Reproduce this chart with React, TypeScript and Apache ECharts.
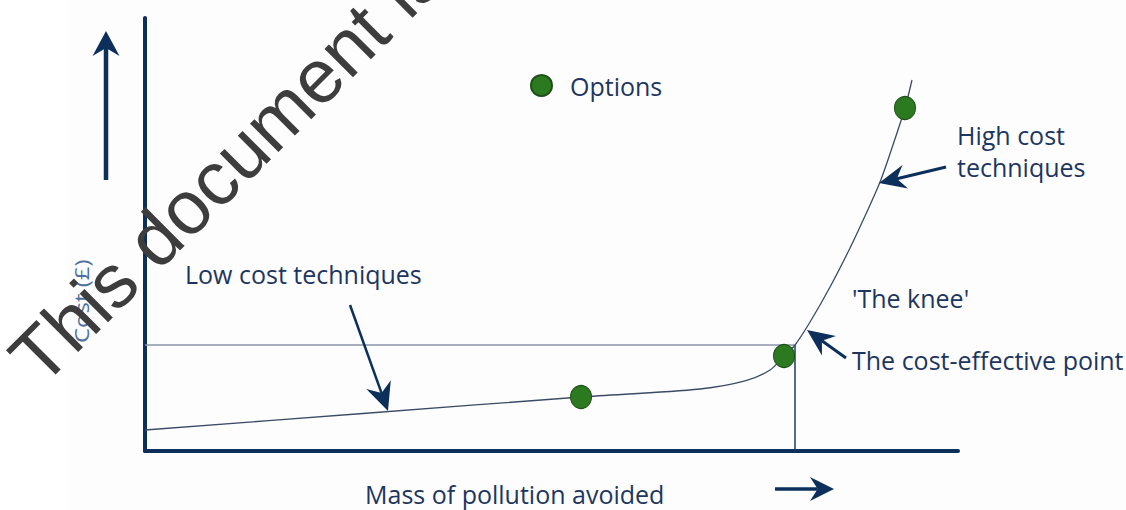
import React, { useEffect, useRef } from "react";
import * as echarts from "echarts";

// Curve of cost vs. mass of pollution avoided (axis units 0-100)
const curveX = [0, 26.8, 53.63, 68.27, 73.8, 76.88, 78.6, 79.95, 81.8, 84.26, 86.72, 88.56, 90.41, 92.0, 93.48, 94.34];
const curveY = [4.85, 8.66, 12.47, 14.32, 16.17, 18.71, 21.94, 24.48, 29.79, 37.88, 46.88, 54.27, 62.12, 70.67, 79.21, 85.68];

// Options (green dots)
const optionX = [53.63, 78.6, 93.48];
const optionY = [12.47, 21.94, 79.21];

// Cost-effective point
const costEffX = 79.95;
const costEffY = 24.48;

const xTitle = "Mass of pollution avoided";
const yTitle = "Cost (£)";
const legendName = "Options";
const watermark = "This document is";

const NAVY = "#0c2f5c";
const TEXT = "#1d3660";
const FONT = "'Open Sans', 'Noto Sans', sans-serif";

function arrow(x1: number, y1: number, x2: number, y2: number, L: number, W: number, lw: number) {
  const len = Math.hypot(x2 - x1, y2 - y1);
  const dx = (x2 - x1) / len;
  const dy = (y2 - y1) / len;
  const px = -dy;
  const py = dx;
  const bx = x2 - L * dx;
  const by = y2 - L * dy;
  const nx = x2 - 0.68 * L * dx;
  const ny = y2 - 0.68 * L * dy;
  return [
    { type: "line", silent: true, z: 50, shape: { x1, y1, x2: nx, y2: ny }, style: { stroke: NAVY, lineWidth: lw } },
    {
      type: "polygon",
      silent: true,
      z: 50,
      shape: {
        points: [
          [x2, y2],
          [bx + (px * W) / 2, by + (py * W) / 2],
          [nx, ny],
          [bx - (px * W) / 2, by - (py * W) / 2],
        ],
      },
      style: { fill: NAVY },
    },
  ];
}

function label(text: string, x: number, baseline: number, size = 25, color = TEXT) {
  return {
    type: "text",
    silent: true,
    z: 50,
    x,
    y: baseline - 0.388 * size,
    style: { text, fontSize: size, fontFamily: FONT, fill: color, textAlign: "left", textVerticalAlign: "middle" },
  };
}

export default function App() {
  const ref = useRef<HTMLDivElement>(null);
  useEffect(() => {
    if (!ref.current) return;
    const chart = echarts.init(ref.current, undefined, { renderer: "svg" });
    const wmSize = 76;
    chart.setOption({
      animation: false,
      backgroundColor: "#ffffff",
      tooltip: { show: false },
      grid: { left: 145, top: 18, right: 168, bottom: 59 },
      legend: {
        data: [legendName],
        left: 530,
        top: 68.5,
        padding: 0,
        itemWidth: 21,
        itemHeight: 23,
        icon: "circle",
        selectedMode: false,
        textStyle: { fontSize: 25, fontFamily: FONT, color: TEXT, lineHeight: 23, padding: [0, 0, 11, 13] },
      },
      xAxis: {
        type: "value",
        min: 0,
        max: 100,
        axisLine: { show: true, onZero: false, lineStyle: { color: NAVY, width: 4 } },
        axisTick: { show: false },
        axisLabel: { show: false },
        splitLine: { show: false },
      },
      yAxis: {
        type: "value",
        min: 0,
        max: 100,
        axisLine: { show: true, onZero: false, lineStyle: { color: NAVY, width: 4 } },
        axisTick: { show: false },
        axisLabel: { show: false },
        splitLine: { show: false },
      },
      series: [
        {
          type: "line",
          name: "curve",
          data: curveX.map((x, i) => [x, curveY[i]]),
          smooth: 0.3,
          showSymbol: false,
          silent: true,
          lineStyle: { color: "#3b4b66", width: 1.3 },
          z: 3,
        },
        {
          type: "line",
          name: "ref-h",
          data: [
            [0, costEffY],
            [costEffX, costEffY],
          ],
          showSymbol: false,
          silent: true,
          lineStyle: { color: "#8a93a8", width: 1.3 },
          z: 2,
        },
        {
          type: "line",
          name: "ref-v",
          data: [
            [costEffX, 0],
            [costEffX, costEffY],
          ],
          showSymbol: false,
          silent: true,
          lineStyle: { color: "#1a3a66", width: 1.5 },
          z: 2,
        },
        {
          type: "scatter",
          name: legendName,
          data: optionX.map((x, i) => [x, optionY[i]]),
          symbol: "circle",
          symbolSize: [21, 23],
          itemStyle: { color: "#2c7a20", borderColor: "#1d4f19", borderWidth: 1, opacity: 1 },
          z: 4,
        },
      ],
      graphic: [
        { type: "rect", silent: true, z: -10, shape: { x: 68, y: 0, width: 1058, height: 510 }, style: { fill: "#fdfdfd" } },
        ...arrow(106, 180, 106, 31, 25, 27, 4.5),
        ...arrow(775, 489, 834, 489, 24, 24, 3.5),
        ...arrow(350, 305, 388, 411, 28, 26, 2.5),
        ...arrow(946, 167, 879, 183, 27, 24, 3),
        ...arrow(846, 358, 807, 330, 27, 24, 3),
        label("Low cost techniques", 185, 284),
        label("High cost", 957, 145),
        label("techniques", 957, 176.5),
        label("'The knee'", 852, 307.7),
        label("The cost-effective point", 852, 370),
        label(xTitle, 365, 503.5),
        {
          type: "text",
          silent: true,
          z: 50,
          x: 81.6,
          y: 343,
          rotation: Math.PI / 2,
          scaleY: 0.8,
          style: { text: yTitle, fontSize: 24, fontFamily: FONT, fill: "#4f6f9f", textAlign: "left", textVerticalAlign: "middle" },
        },
        {
          type: "text",
          silent: true,
          z: 100,
          x: 23.0,
          y: 369.8,
          rotation: Math.PI / 4,
          style: {
            text: watermark,
            fontSize: wmSize,
            fontFamily: "'Liberation Sans', Arial, sans-serif",
            fill: "#3d3d3d",
            textAlign: "left",
            textVerticalAlign: "middle",
          },
        },
      ],
    });
    return () => chart.dispose();
  }, []);
  return <div ref={ref} style={{ position: "absolute", left: 0, top: 0, width: 1126, height: 510 }} />;
}
